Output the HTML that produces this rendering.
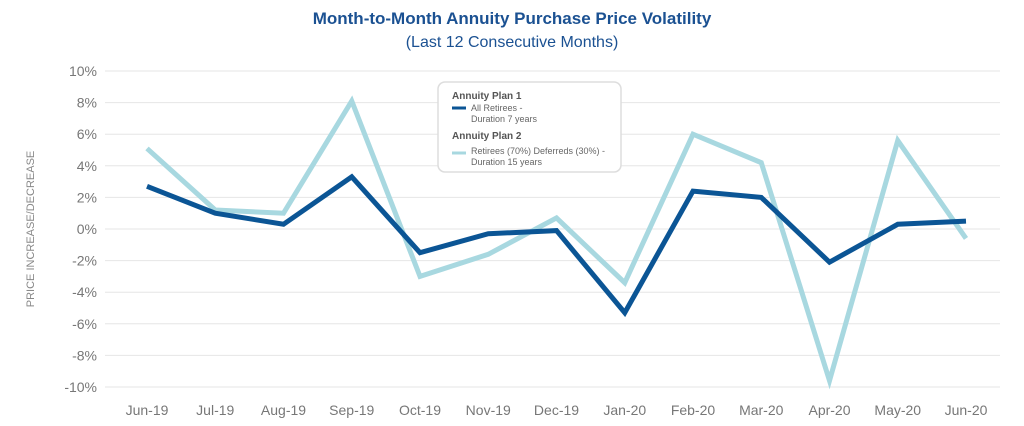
<!DOCTYPE html>
<html><head><meta charset="utf-8"><style>
body{margin:0;background:#fff;width:1024px;height:421px;overflow:hidden;font-family:"Liberation Sans",sans-serif}
</style></head><body>
<svg width="1024" height="421" id="c">
<text x="512" y="24" text-anchor="middle" font-size="17" font-weight="bold" fill="#1b5192">Month-to-Month Annuity Purchase Price Volatility</text>
<text x="512" y="47" text-anchor="middle" font-size="16" fill="#1b5192">(Last 12 Consecutive Months)</text>
<text transform="translate(34,229) rotate(-90)" text-anchor="middle" font-size="11" fill="#888">PRICE INCREASE/DECREASE</text>
<g id="grid"></g><g id="lines"></g>
<g>
<rect x="438" y="82" width="183" height="90" rx="7" fill="#fff" stroke="#ddd" stroke-width="1.5"/>
<text x="452" y="99" font-size="10" font-weight="bold" fill="#555">Annuity Plan 1</text>
<line x1="452" y1="108" x2="466" y2="108" stroke="#0b5595" stroke-width="3"/>
<text x="471" y="111" font-size="9" fill="#666">All Retirees -</text>
<text x="471" y="122" font-size="9" fill="#666">Duration 7 years</text>
<text x="452" y="139" font-size="10" font-weight="bold" fill="#555">Annuity Plan 2</text>
<line x1="452" y1="153" x2="466" y2="153" stroke="#a8d8e0" stroke-width="3"/>
<text x="471" y="154" font-size="9" fill="#666">Retirees (70%) Deferreds (30%) -</text>
<text x="471" y="165" font-size="9" fill="#666">Duration 15 years</text>
</g>
</svg>
<script>
const months=["Jun-19","Jul-19","Aug-19","Sep-19","Oct-19","Nov-19","Dec-19","Jan-20","Feb-20","Mar-20","Apr-20","May-20","Jun-20"];
const plan1=[2.7,1.0,0.3,3.3,-1.5,-0.3,-0.1,-5.3,2.4,2.0,-2.1,0.3,0.5];
const plan2=[5.1,1.2,1.0,8.1,-3.0,-1.6,0.7,-3.4,6.0,4.2,-9.6,5.6,-0.6];
const yTicks=[10,8,6,4,2,0,-2,-4,-6,-8,-10];
const NS="http://www.w3.org/2000/svg";
const x=i=>147+i*(966-147)/(months.length-1);
const y=v=>229-v*15.8;
const g=document.getElementById('grid'),L=document.getElementById('lines');
function mk(tag,a,p){const e=document.createElementNS(NS,tag);for(const k in a)e.setAttribute(k,a[k]);p.appendChild(e);return e;}
yTicks.forEach(t=>{
 const l=mk('line',{x1:105,x2:1000,y1:y(t),y2:y(t),stroke:'#e6e6e6','stroke-width':1},g);
 
 
 const tx=mk('text',{x:97,y:y(t)+5,'text-anchor':'end','font-size':14,fill:'#777'},g);
 tx.textContent=t+'%';
 
 
});
months.forEach((m,i)=>{
 const tx=mk('text',{x:x(i),y:415,'text-anchor':'middle','font-size':14,fill:'#777'},g);
 tx.textContent=m;
 
 
});
function line(d,c,n){
 const p=mk('polyline',{points:d.map((v,i)=>x(i)+','+y(v)).join(' '),fill:'none',stroke:c,'stroke-width':5,'stroke-linejoin':'miter'},L);
 
 
}
line(plan2,'#a8d8e0','plan2-line');
line(plan1,'#0b5595','plan1-line');
</script>
</body></html>
